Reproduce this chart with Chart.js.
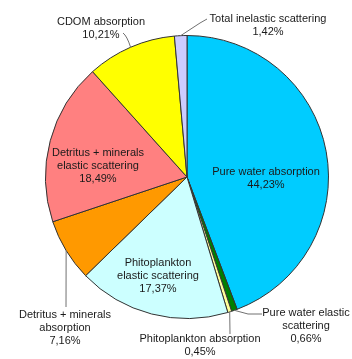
<!DOCTYPE html>
<html>
<head>
<meta charset="utf-8">
<script src="https://cdn.jsdelivr.net/npm/chart.js@4"></script>
<style>
  body { margin: 0; background: #fff; }
  canvas { display: block; }
</style>
</head>
<body>
<canvas id="pieChart" width="352" height="359"></canvas>
<script>
// slice names (\n = line break in the label)
const categories = [
  "Pure water absorption",
  "Pure water elastic\nscattering",
  "Phitoplankton absorption",
  "Phitoplankton\nelastic scattering",
  "Detritus + minerals\nabsorption",
  "Detritus + minerals\nelastic scattering",
  "CDOM absorption",
  "Total inelastic scattering"
];

// share of each process, %
const shares = [44.23, 0.66, 0.45, 17.37, 7.16, 18.49, 10.21, 1.42];

const sliceColors = ["#00CCFF", "#008000", "#FFFF99", "#CCFFFF", "#FF9900", "#FF8080", "#FFFF00", "#CCCCFF"];

// where each label goes: text centre (first line) and leader line bend points
const labelLayout = [
  { x: 266, y: 172, leader: null },
  { x: 306, y: 313, leader: [[248, 314], [262, 314]] },
  { x: 200, y: 339, leader: [[230, 334]] },
  { x: 158, y: 263, leader: null },
  { x: 65, y: 315, leader: [[66, 307]] },
  { x: 98, y: 153, leader: null },
  { x: 101, y: 22, leader: [[127, 36], [123, 33]] },
  { x: 268, y: 19, leader: [[200, 23], [207, 19]] }
];

function percentText(v) {
  return v.toFixed(2).replace(".", ",") + "%";
}

// draw text labels and leader lines
const labelPlugin = {
  id: "sliceLabels",
  afterDraw(chart) {
    const ctx = chart.ctx;
    const arcs = chart.getDatasetMeta(0).data;
    ctx.save();

    arcs.forEach((arc, i) => {
      const lay = labelLayout[i];
      if (lay.leader) {
        const mid = (arc.startAngle + arc.endAngle) / 2;
        const sx = arc.x + Math.cos(mid) * arc.outerRadius;
        const sy = arc.y + Math.sin(mid) * arc.outerRadius;
        ctx.beginPath();
        ctx.strokeStyle = "#707070";
        ctx.lineWidth = 1;
        ctx.moveTo(sx, sy);
        if (lay.leader.length === 2 && i === 6) {
          ctx.quadraticCurveTo(lay.leader[0][0], lay.leader[0][1], lay.leader[1][0], lay.leader[1][1]);
        } else {
          lay.leader.forEach((p) => ctx.lineTo(p[0], p[1]));
        }
        ctx.stroke();
      }

      const lines = categories[i].split("\n");
      lines.push(percentText(shares[i]));
      ctx.fillStyle = "#1a1a1a";
      ctx.font = "11px 'Liberation Sans', Arial, sans-serif";
      ctx.textAlign = "center";
      ctx.textBaseline = "middle";
      lines.forEach((t, k) => {
        ctx.fillText(t, lay.x, lay.y + k * 13);
      });
    });

    ctx.restore();
  }
};

const ctx = document.getElementById("pieChart").getContext("2d");

new Chart(ctx, {
  type: "pie",
  data: {
    labels: categories,
    datasets: [
      {
        data: shares,
        backgroundColor: sliceColors,
        borderColor: "#333333",
        borderWidth: 1
      }
    ]
  },
  options: {
    responsive: false,
    animation: false,
    devicePixelRatio: 1,
    layout: {
      padding: { left: 45, right: 23, top: 35, bottom: 40 }
    },
    plugins: {
      legend: { display: false },
      tooltip: { enabled: false }
    }
  },
  plugins: [labelPlugin]
});
</script>
</body>
</html>
